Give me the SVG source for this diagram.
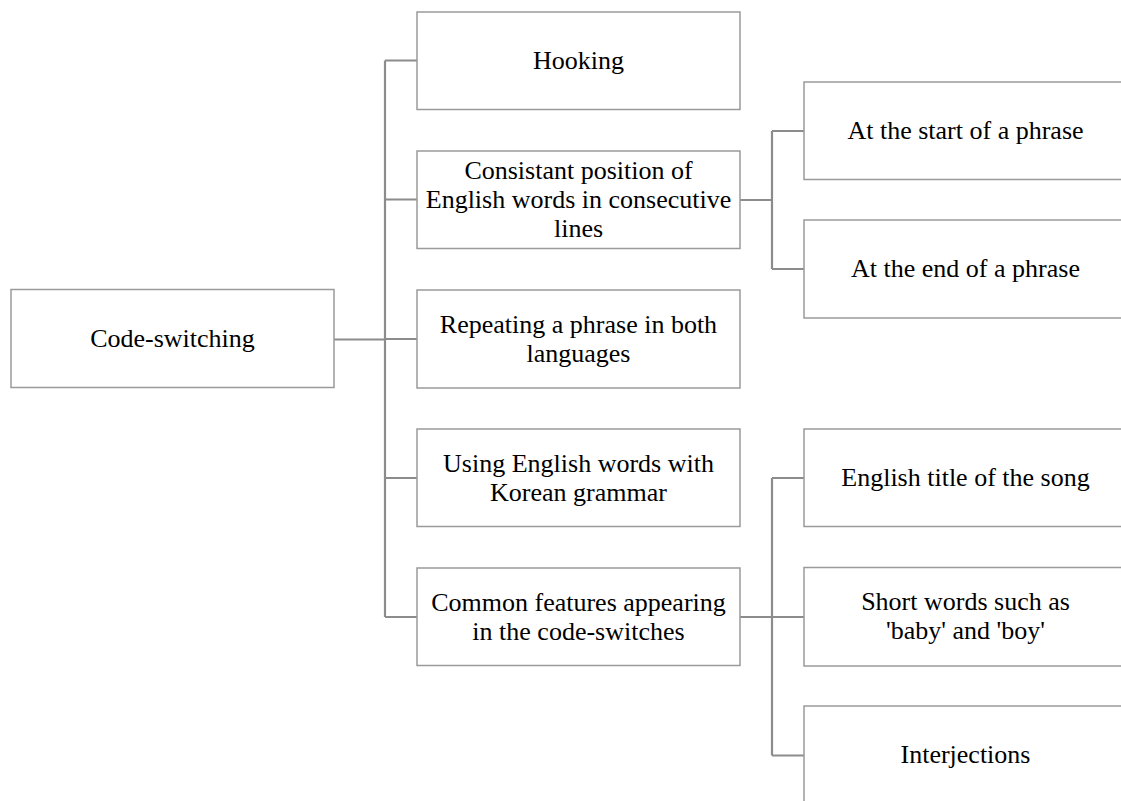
<svg xmlns="http://www.w3.org/2000/svg" width="1121" height="801" viewBox="0 0 1121 801">
<style>
.box{fill:#fff;stroke:#9a9a9a;stroke-width:1.5}
.t{font-family:"Liberation Serif","Times New Roman",serif;font-size:26px;fill:#000;text-anchor:middle}
.c{fill:none;stroke:#8c8c8c;stroke-width:2.2}
</style>
<rect width="1121" height="801" fill="#fff"/>
<g id="connectors">
<path class="c" d="M334 339.5H385M385 60.5V617M385 60.5H417M385 199.5H417M385 339H417M385 478H417M385 617H417"/>
<path class="c" d="M740 200H772M772 131V269M772 131H804M772 269H804"/>
<path class="c" d="M740 617H772M772 478V755.5M772 478H804M772 617H804M772 755.5H804"/>
</g>
<g id="root"><rect class="box" x="11" y="289.5" width="323" height="98"/><text class="t" x="172.5" y="347">Code-switching</text></g>
<g id="hooking"><rect class="box" x="417" y="12" width="323" height="97.5"/><text class="t" x="578.5" y="68.5">Hooking</text></g>
<g id="consistant"><rect class="box" x="417" y="151" width="323" height="97.5"/><text class="t" x="578.5" y="179">Consistant position of</text><text class="t" x="578.5" y="208">English words in consecutive</text><text class="t" x="578.5" y="237">lines</text></g>
<g id="repeating"><rect class="box" x="417" y="290" width="323" height="98"/><text class="t" x="578.5" y="332.5">Repeating a phrase in both</text><text class="t" x="578.5" y="361.5">languages</text></g>
<g id="using"><rect class="box" x="417" y="429" width="323" height="97.5"/><text class="t" x="578.5" y="471.5">Using English words with</text><text class="t" x="578.5" y="500.5">Korean grammar</text></g>
<g id="common"><rect class="box" x="417" y="568" width="323" height="97.5"/><text class="t" x="578.5" y="610.5">Common features appearing</text><text class="t" x="578.5" y="639.5">in the code-switches</text></g>
<g id="start"><rect class="box" x="804" y="82" width="323" height="97.5"/><text class="t" x="965.5" y="139">At the start of a phrase</text></g>
<g id="end"><rect class="box" x="804" y="220" width="323" height="98"/><text class="t" x="965.5" y="277">At the end of a phrase</text></g>
<g id="title"><rect class="box" x="804" y="429" width="323" height="97.5"/><text class="t" x="965.5" y="486">English title of the song</text></g>
<g id="short"><rect class="box" x="804" y="567.5" width="323" height="98.5"/><text class="t" x="965.5" y="609.5">Short words such as</text><text class="t" x="965.5" y="638.5">'baby' and 'boy'</text></g>
<g id="interj"><rect class="box" x="804" y="706" width="323" height="98"/><text class="t" x="965.5" y="763">Interjections</text></g>
</svg>
